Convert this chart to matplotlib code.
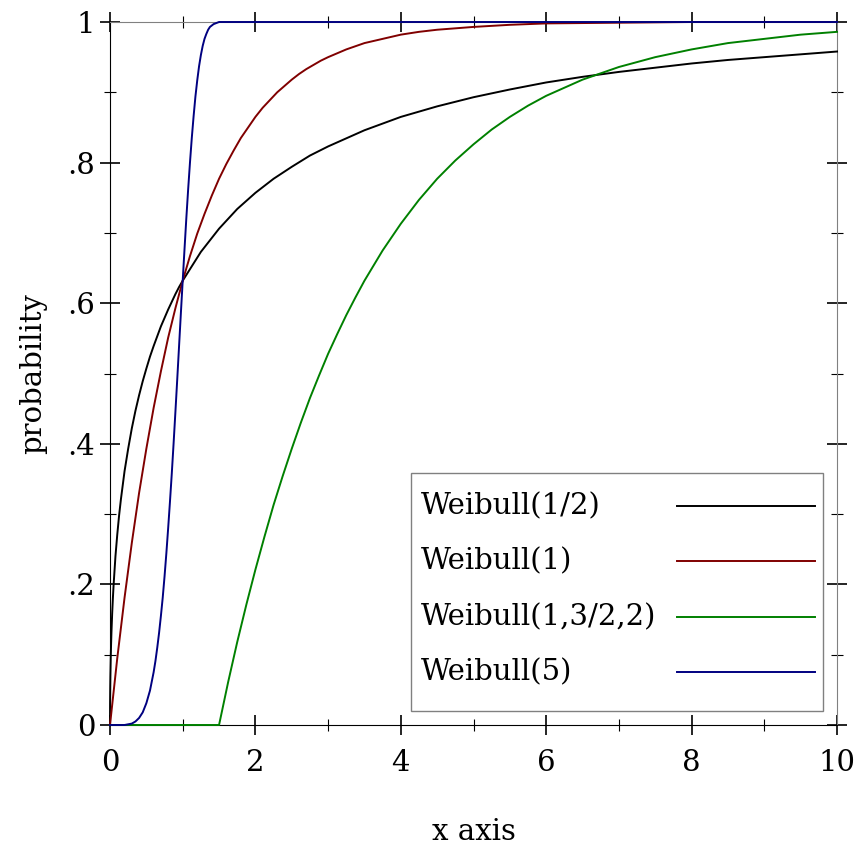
import matplotlib
matplotlib.use("Agg")
import matplotlib.pyplot as plt
from matplotlib.patches import Rectangle
from matplotlib.ticker import MultipleLocator

plt.rcParams["font.family"] = ["DejaVu Serif"]

# values
x_half = [0, 0.001, 0.003, 0.005, 0.01, 0.015, 0.02, 0.03, 0.04, 0.05, 0.075, 0.1, 0.125,
          0.15, 0.2, 0.25, 0.3, 0.35, 0.4, 0.45, 0.5, 0.55, 0.6, 0.65, 0.7, 0.75, 0.8,
          0.85, 0.9, 0.95, 1.0, 1.25, 1.5, 1.75, 2.0, 2.25, 2.5, 2.75, 3.0, 3.5, 4.0, 4.5,
          5.0, 5.5, 6.0, 6.5, 7.0, 7.5, 8.0, 8.5, 9.0, 9.5, 10.0]
y_half = [0, 0.031, 0.053, 0.068, 0.095, 0.115, 0.132, 0.159, 0.181, 0.200, 0.240, 0.271,
          0.298, 0.321, 0.361, 0.393, 0.422, 0.447, 0.469, 0.489, 0.507, 0.524, 0.539,
          0.553, 0.567, 0.579, 0.591, 0.602, 0.613, 0.623, 0.632, 0.673, 0.706, 0.734,
          0.757, 0.777, 0.794, 0.810, 0.823, 0.846, 0.865, 0.880, 0.893, 0.904, 0.914,
          0.922, 0.929, 0.935, 0.941, 0.946, 0.950, 0.954, 0.958]

x_one = [0, 0.1, 0.2, 0.3, 0.4, 0.5, 0.6, 0.7, 0.8, 0.9, 1.0, 1.1, 1.2, 1.3, 1.4, 1.5,
         1.6, 1.7, 1.8, 1.9, 2.0, 2.1, 2.2, 2.3, 2.4, 2.5, 2.6, 2.7, 2.8, 2.9, 3.0, 3.25,
         3.5, 3.75, 4.0, 4.25, 4.5, 4.75, 5.0, 5.5, 6.0, 6.5, 7.0, 8.0, 9.0, 10.0]
y_one = [0, 0.095, 0.181, 0.259, 0.330, 0.393, 0.451, 0.503, 0.551, 0.593, 0.632, 0.667,
         0.699, 0.727, 0.753, 0.777, 0.798, 0.817, 0.835, 0.850, 0.865, 0.878, 0.889,
         0.900, 0.909, 0.918, 0.926, 0.933, 0.939, 0.945, 0.950, 0.961, 0.970, 0.976,
         0.982, 0.986, 0.989, 0.991, 0.993, 0.996, 0.998, 0.9985, 0.999, 1.0, 1.0, 1.0]

x_shift = [0, 1.5, 1.625, 1.75, 1.875, 2.0, 2.125, 2.25, 2.375, 2.5, 2.625, 2.75, 2.875,
           3.0, 3.125, 3.25, 3.375, 3.5, 3.75, 4.0, 4.25, 4.5, 4.75, 5.0, 5.25, 5.5, 5.75,
           6.0, 6.5, 7.0, 7.5, 8.0, 8.5, 9.0, 9.5, 10.0]
y_shift = [0, 0, 0.061, 0.118, 0.171, 0.221, 0.268, 0.313, 0.354, 0.393, 0.430, 0.465,
           0.497, 0.528, 0.556, 0.583, 0.608, 0.632, 0.675, 0.713, 0.747, 0.777, 0.803,
           0.826, 0.847, 0.865, 0.881, 0.895, 0.918, 0.936, 0.950, 0.961, 0.970, 0.976,
           0.982, 0.986]

x_five = [0, 0.2, 0.25, 0.3, 0.35, 0.4, 0.45, 0.5, 0.55, 0.6, 0.625, 0.65, 0.675, 0.7,
          0.725, 0.75, 0.775, 0.8, 0.825, 0.85, 0.875, 0.9, 0.925, 0.95, 0.975, 1.0,
          1.025, 1.05, 1.075, 1.1, 1.125, 1.15, 1.175, 1.2, 1.225, 1.25, 1.275, 1.3,
          1.325, 1.35, 1.375, 1.4, 1.425, 1.45, 1.475, 1.5, 1.6, 10.0]
y_five = [0, 0.0, 0.001, 0.002, 0.005, 0.010, 0.018, 0.031, 0.049, 0.075, 0.091, 0.110,
          0.131, 0.155, 0.181, 0.211, 0.244, 0.280, 0.318, 0.358, 0.401, 0.446, 0.492,
          0.539, 0.586, 0.632, 0.677, 0.721, 0.762, 0.800, 0.835, 0.866, 0.894, 0.917,
          0.937, 0.953, 0.966, 0.976, 0.983, 0.989, 0.993, 0.995, 0.997, 0.998, 0.999,
          1.0, 1.0, 1.0]

labels = ["Weibull(1/2)", "Weibull(1)", "Weibull(1,3/2,2)", "Weibull(5)"]
colors = ["black", "#800000", "#008000", "#000080"]
series = [(x_half, y_half), (x_one, y_one), (x_shift, y_shift), (x_five, y_five)]

fig = plt.figure(figsize=(8.59, 8.48), dpi=100)
ax = fig.add_axes([110 / 859, 1 - 725 / 848, 727 / 859, 703 / 848])

for (xs, ys), c in zip(series, colors):
    ax.plot(xs, ys, color=c, lw=1.4, clip_on=False, zorder=3)

ax.set_xlim(0, 10)
ax.set_ylim(0, 1)
ax.xaxis.set_major_locator(MultipleLocator(2))
ax.xaxis.set_minor_locator(MultipleLocator(1))
ax.yaxis.set_minor_locator(MultipleLocator(0.1))
ax.set_yticks([0, 0.2, 0.4, 0.6, 0.8, 1.0])
ax.set_yticklabels(["0", ".2", ".4", ".6", ".8", "1"])

ax.tick_params(which="both", direction="inout", top=True, right=True, labelsize=21)
ax.tick_params(which="major", length=15, width=1.2)
ax.tick_params(which="minor", length=8, width=0.8)
ax.tick_params(axis="x", which="major", pad=10)
ax.tick_params(axis="y", which="major", pad=3)

for s in ["top", "right"]:
    ax.spines[s].set_color("#808080")
for s in ["left", "bottom"]:
    ax.spines[s].set_color("black")

ax.set_xlabel("x axis", fontsize=21, labelpad=29)
ax.set_ylabel("probability", fontsize=21, labelpad=15)

# legend box: labels on the left, line samples on the right
ax.add_patch(Rectangle((0.414, 0.0199), 0.5667, 0.3386, transform=ax.transAxes,
                       facecolor="white", edgecolor="#808080", lw=1.0, zorder=4,
                       clip_on=False))
row_y = [0.3115, 0.2333, 0.1536, 0.0754]
for lab, c, yy in zip(labels, colors, row_y):
    ax.text(0.428, yy, lab, transform=ax.transAxes, fontsize=21, ha="left",
            va="center", zorder=5)
    ax.plot([0.7799, 0.9697], [yy, yy], transform=ax.transAxes, color=c, lw=1.4,
            zorder=5, clip_on=False)

fig.savefig("out.png", dpi=100)
